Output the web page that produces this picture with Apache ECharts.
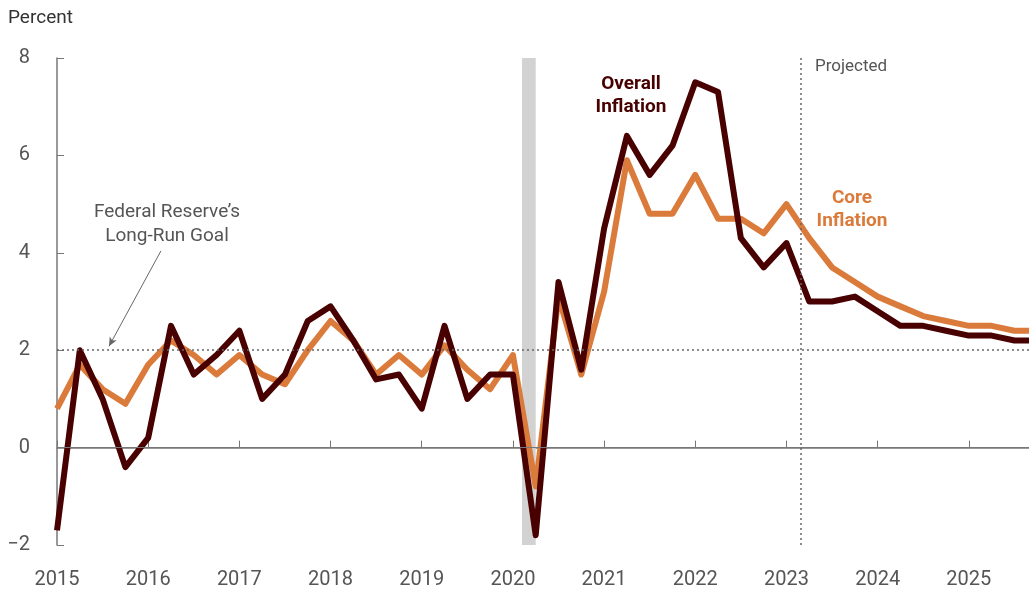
<!DOCTYPE html>
<html>
<head>
<meta charset="utf-8">
<script src="https://cdn.jsdelivr.net/npm/echarts@6/dist/echarts.min.js"></script>
<style>
  html, body { margin: 0; padding: 0; background: #fff; }
  #chart { width: 1029px; height: 595px; }
</style>
</head>
<body>
<div id="chart"></div>
<script>
// quarterly data, first point is 2015 Q1
var startYear = 2015;
var overall = [-1.7, 2.0, 1.0, -0.4, 0.2, 2.5, 1.5, 1.9, 2.4, 1.0, 1.5, 2.6,
               2.9, 2.2, 1.4, 1.5, 0.8, 2.5, 1.0, 1.5, 1.5, -1.8, 3.4, 1.6,
               4.5, 6.4, 5.6, 6.2, 7.5, 7.3, 4.3, 3.7, 4.2, 3.0, 3.0, 3.1,
               2.8, 2.5, 2.5, 2.4, 2.3, 2.3, 2.2, 2.2];
var core = [0.8, 1.7, 1.2, 0.9, 1.7, 2.2, 1.9, 1.5, 1.9, 1.5, 1.3, 2.0,
            2.6, 2.2, 1.5, 1.9, 1.5, 2.1, 1.6, 1.2, 1.9, -0.8, 3.1, 1.5,
            3.2, 5.9, 4.8, 4.8, 5.6, 4.7, 4.7, 4.4, 5.0, 4.3, 3.7, 3.4,
            3.1, 2.9, 2.7, 2.6, 2.5, 2.5, 2.4, 2.4];
var recession = [2020.1, 2020.25];
var projectedStart = 2023.16;
var goal = 2;

var darkRed = '#480000';
var orange = '#db7b3b';
var grey = '#555';
var font = 'Roboto';

function toPairs(arr) {
  var out = [];
  for (let i = 0; i < arr.length; i++) {
    out.push([startYear + i / 4, arr[i]]);
  }
  return out;
}

var chart = echarts.init(document.getElementById('chart'));
var option = {
  animation: false,
  textStyle: { fontFamily: font },
  grid: { left: 57, right: 0, top: 58, bottom: 50 },
  xAxis: {
    type: 'value',
    min: 2015,
    max: 2025.66,
    interval: 1,
    axisLine: { lineStyle: { color: '#777', width: 1.5 } },
    axisTick: { inside: true, length: 7, lineStyle: { color: '#777' } },
    axisLabel: {
      color: grey, fontSize: 20, margin: 25,
      showMaxLabel: false,
      formatter: function (v) { return String(v); }
    },
    splitLine: { show: false }
  },
  yAxis: {
    type: 'value',
    min: -2,
    max: 8,
    interval: 2,
    axisLine: { show: true, lineStyle: { color: '#777', width: 1.5 } },
    axisTick: { show: true, inside: true, length: 7, lineStyle: { color: '#777' } },
    axisLabel: {
      color: grey, fontSize: 20, margin: 27,
      formatter: function (v) { return v < 0 ? '\u2212' + Math.abs(v) : String(v); }
    },
    splitLine: { show: false }
  },
  series: [
    {
      name: 'marks',
      type: 'line',
      data: [],
      silent: true,
      markArea: {
        silent: true,
        itemStyle: { color: '#d2d2d2' },
        data: [[{ xAxis: recession[0] }, { xAxis: recession[1] }]]
      },
      markLine: {
        silent: true,
        symbol: 'none',
        label: { show: false },
        data: [
          { yAxis: 0, lineStyle: { color: '#777', width: 1.2, type: 'solid' } },
          { yAxis: goal, lineStyle: { color: '#666', width: 1.5, type: [2, 3] } },
          { xAxis: projectedStart, lineStyle: { color: '#666', width: 1.5, type: [2, 3] } },
          [
            { coord: [2016.14, 4.04], symbol: 'none',
              lineStyle: { color: '#666', width: 1, type: 'solid' } },
            { coord: [2015.57, 2.08], symbol: 'arrow', symbolSize: [6, 9] }
          ]
        ]
      }
    },
    {
      name: 'Core Inflation',
      type: 'line',
      data: toPairs(core),
      showSymbol: false,
      lineStyle: { color: orange, width: 6, join: 'round' },
      itemStyle: { color: orange },
      z: 3
    },
    {
      name: 'Overall Inflation',
      type: 'line',
      data: toPairs(overall),
      showSymbol: false,
      lineStyle: { color: darkRed, width: 6, join: 'round' },
      itemStyle: { color: darkRed },
      z: 4
    }
  ],
  graphic: [
    { type: 'text', left: 8, top: 9,
      style: { text: 'Percent', fill: '#333', font: '19px ' + font } },
    { type: 'text', x: 167, y: 224,
      style: { text: 'Federal Reserve\u2019s\nLong-Run Goal', fill: grey, font: '19px ' + font,
               align: 'center', verticalAlign: 'middle', lineHeight: 24 } },
    { type: 'text', x: 631, y: 96,
      style: { text: 'Overall\nInflation', fill: darkRed, font: 'bold 19px ' + font,
               align: 'center', verticalAlign: 'middle', lineHeight: 23 } },
    { type: 'text', x: 852, y: 210,
      style: { text: 'Core\nInflation', fill: orange, font: 'bold 19px ' + font,
               align: 'center', verticalAlign: 'middle', lineHeight: 23 } },
    { type: 'text', x: 815, y: 67,
      style: { text: 'Projected', fill: grey, font: '17px ' + font,
               align: 'left', verticalAlign: 'middle' } }
  ]
};
chart.setOption(option);
</script>
</body>
</html>
